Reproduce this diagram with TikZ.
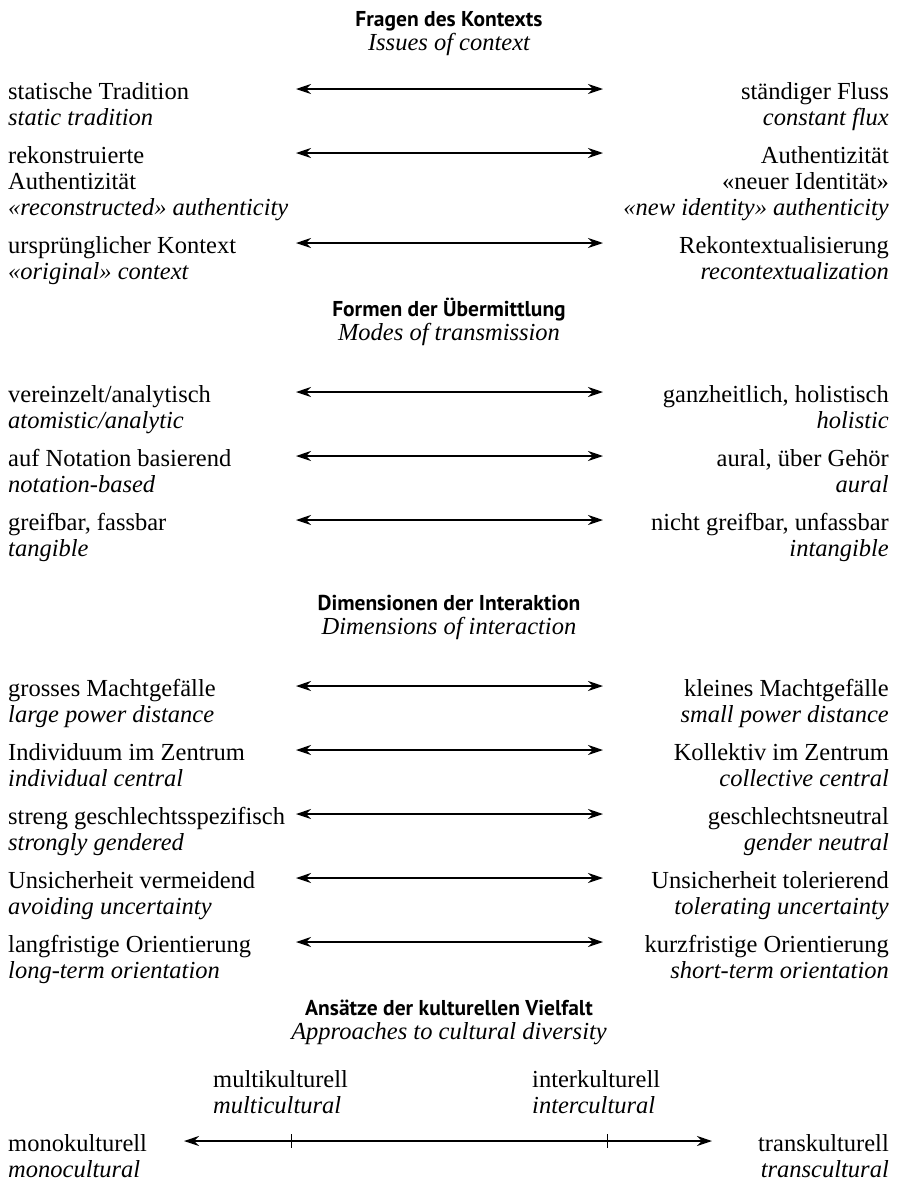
\documentclass[tikz,border=0pt]{standalone}
\usepackage{fontspec}
\setmainfont{Liberation Serif}
\newfontfamily\headfont{PT Sans}
\usetikzlibrary{arrows.meta}

\tikzset{
  txt/.style={inner sep=0pt, font=\fontsize{24.5}{26}\selectfont},
  it/.style={font=\fontsize{24.5}{26}\selectfont\itshape},
  lft/.style={txt, anchor=base west},
  rgt/.style={txt, anchor=base east},
  head/.style={inner sep=0pt, anchor=base, font=\headfont\bfseries\fontsize{21.5}{24}\selectfont},
  subhead/.style={txt, it, anchor=base},
  dbl/.style={{Stealth[length=15pt,width=10pt]}-{Stealth[length=15pt,width=10pt]}, line width=1.4pt}
}

\begin{document}
\begin{tikzpicture}[x=1pt,y=-1pt]
  \useasboundingbox (0,0) rectangle (897,1181);
  % headings
  \node[head] (h1) at (449,26) {Fragen des Kontexts};
  \node[subhead] (h1e) at (449,50) {Issues of context};
  \node[head] (h2) at (449,316) {Formen der Übermittlung};
  \node[subhead] (h2e) at (449,340) {Modes of transmission};
  \node[head] (h3) at (449,610) {Dimensionen der Interaktion};
  \node[subhead] (h3e) at (449,634) {Dimensions of interaction};
  \node[head] (h4) at (449,1015) {Ansätze der kulturellen Vielfalt};
  \node[subhead] (h4e) at (449,1039) {Approaches to cultural diversity};

  % rows with two lines
  \foreach \n/\y/\la/\lb/\ra/\rb in {
      a/99/statische Tradition/static tradition/ständiger Fluss/constant flux,
      c/253/ursprünglicher Kontext/«original» context/Rekontextualisierung/recontextualization,
      d/402/{vereinzelt/analytisch}/{atomistic/analytic}/{ganzheitlich, holistisch}/holistic,
      e/466/auf Notation basierend/notation-based/{aural, über Gehör}/aural,
      f/530/{greifbar, fassbar}/tangible/{nicht greifbar, unfassbar}/intangible,
      g/696/grosses Machtgefälle/large power distance/kleines Machtgefälle/small power distance,
      h/760/Individuum im Zentrum/individual central/Kollektiv im Zentrum/collective central,
      i/824/streng geschlechtsspezifisch/strongly gendered/geschlechtsneutral/gender neutral,
      j/888/Unsicherheit vermeidend/avoiding uncertainty/Unsicherheit tolerierend/tolerating uncertainty,
      k/952/langfristige Orientierung/long-term orientation/kurzfristige Orientierung/short-term orientation}{
    \node[lft] (l\n) at (8,\y) {\la};
    \node[lft,it] (le\n) at (8,\y+26) {\lb};
    \node[rgt] (r\n) at (889,\y) {\ra};
    \node[rgt,it] (re\n) at (889,\y+26) {\rb};
    \coordinate (p\n) at (296,\y-10);
    \coordinate (q\n) at (603,\y-10);
    \draw[dbl] (p\n) -- (q\n);
  }

  % row with three lines
  \node[lft] (lb) at (8,163) {rekonstruierte};
  \node[lft] (lb2) at (8,189) {Authentizität};
  \node[lft,it] (leb) at (8,215) {«reconstructed» authenticity};
  \node[rgt] (rb) at (889,163) {Authentizität};
  \node[rgt] (rb2) at (889,189) {«neuer Identität»};
  \node[rgt,it] (reb) at (889,215) {«new identity» authenticity};
  \coordinate (pb) at (296,153);
  \coordinate (qb) at (603,153);
  \draw[dbl] (pb) -- (qb);

  % scale of cultural diversity
  \node[lft] (multi) at (213,1087) {multikulturell};
  \node[lft,it] (multie) at (213,1113) {multicultural};
  \node[lft] (inter) at (532,1087) {interkulturell};
  \node[lft,it] (intere) at (532,1113) {intercultural};
  \node[lft] (mono) at (8,1151) {monokulturell};
  \node[lft,it] (monoe) at (8,1177) {monocultural};
  \node[rgt] (trans) at (889,1151) {transkulturell};
  \node[rgt,it] (transe) at (889,1177) {transcultural};
  \coordinate (ax1) at (184,1141);
  \coordinate (ax2) at (712,1141);
  \draw[dbl] (ax1) -- (ax2);
  \foreach \x in {291,607}{
    \draw[line width=0.8pt] (\x,1134) -- (\x,1148);
  }
\end{tikzpicture}
\end{document}
